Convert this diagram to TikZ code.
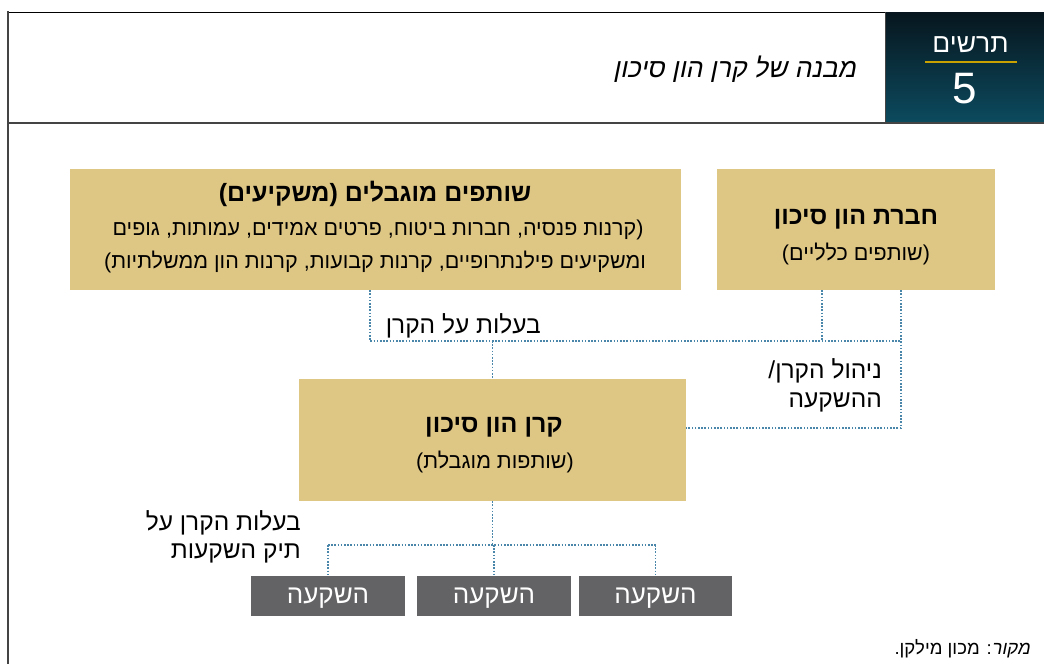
\documentclass[tikz,border=0pt]{standalone}
\usepackage{fontspec}
\setmainfont[Script=Hebrew]{Liberation Sans}
\newfontfamily\slantfont[Script=Hebrew,FakeSlant=0.2]{Liberation Sans}
\TeXXeTstate=1
\newcommand\rtl[1]{\beginR #1\endR}
\definecolor{gold}{RGB}{222,198,133}
\definecolor{investgray}{RGB}{99,99,102}
\definecolor{dotblue}{RGB}{74,134,170}
\definecolor{hdrtop}{RGB}{7,22,30}
\definecolor{hdrbot}{RGB}{12,74,94}
\definecolor{hdrline}{RGB}{201,161,0}
\definecolor{frame}{RGB}{68,68,68}
\tikzset{
  goldbox/.style={fill=gold, inner sep=0pt},
  investbox/.style={fill=investgray, text=white, inner sep=0pt, minimum width=154pt, minimum height=40pt, text depth=0pt, font=\fontsize{26}{28}\selectfont},
  conn/.style={draw=dotblue, line width=1.6pt, dash pattern=on 1.6pt off 1.6pt},
  boxtitle/.style={inner sep=0pt, font=\fontsize{25}{28}\bfseries\selectfont},
  boxtext/.style={inner sep=0pt, font=\fontsize{21.5}{24}\selectfont},
  lbl/.style={inner sep=0pt, font=\fontsize{24.5}{27}\selectfont},
}
\begin{document}
\begin{tikzpicture}[x=1pt,y=-1pt]
\useasboundingbox (0,0) rectangle (1044,664);
% frame
\shade[top color=hdrtop, bottom color=hdrbot] (885,12) rectangle (1044,122);
\draw[black, line width=0.8pt] (8,12) -- (885,12);
\draw[frame, line width=0.8pt] (885,12) -- (885,122);
\draw[frame, line width=1.2pt] (8,123) -- (1044,123);
\draw[frame, line width=2pt] (8,11) -- (8,664);
\draw[hdrline, line width=1.5pt] (925,62) -- (1017,62);
\node[text=white, inner sep=0pt, font=\fontsize{26.5}{28}\selectfont] (hdrword) at (970.5,45) {\rtl{תרשים}};
\node[text=white, inner sep=0pt, font=\fontsize{44}{46}\selectfont] (hdrnum) at (965,89) {5};
\node[anchor=east, inner sep=0pt, font=\fontsize{26.5}{28}\selectfont\slantfont] (title) at (856,69) {\rtl{מבנה של קרן הון סיכון}};

% boxes
\node[goldbox, minimum width=611pt, minimum height=121pt] (lp) at (375.5,229.5) {};
\node[boxtitle] (lpT) at (375,194) {\rtl{שותפים מוגבלים (משקיעים)}};
\node[boxtext] (lpA) at (378,230) {\rtl{(קרנות פנסיה, חברות ביטוח, פרטים אמידים, עמותות, גופים}};
\node[boxtext] (lpB) at (375,262) {\rtl{ומשקיעים פילנתרופיים, קרנות קבועות, קרנות הון ממשלתיות)}};

\node[goldbox, minimum width=278pt, minimum height=121pt] (gp) at (856,229.5) {};
\node[boxtitle] (gpT) at (856,219.5) {\rtl{חברת הון סיכון}};
\node[boxtext] (gpA) at (856,254) {\rtl{(שותפים כלליים)}};

\node[goldbox, minimum width=387pt, minimum height=122pt] (fund) at (492.5,440) {};
\node[boxtitle] (fundT) at (494,427.5) {\rtl{קרן הון סיכון}};
\node[boxtext] (fundA) at (495,462) {\rtl{(שותפות מוגבלת)}};

\node[investbox] (i1) at (328,596) {\rtl{השקעה}};
\node[investbox] (i2) at (494,596) {\rtl{השקעה}};
\node[investbox, minimum width=153pt] (i3) at (655.5,596) {\rtl{השקעה}};

% junctions
\coordinate (own) at (370,341);
\coordinate (bus) at (901,341);
\coordinate (gpL) at (822,341);
\coordinate (mgmt) at (901,428);
\coordinate (bus2) at (493,545);

% connectors
\draw[conn] (own |- lp.south) -- (own) -- (bus);
\draw[conn] (gpL |- gp.south) -- (gpL);
\draw[conn] (bus |- gp.south) -- (mgmt) -- (mgmt -| fund.east);
\draw[conn] (fund.north |- own) -- (fund.north);
\draw[conn] (fund.south) -- (fund.south |- bus2);
\draw[conn] (i1.north |- bus2) -- (i3.north |- bus2);
\draw[conn] (i1.north |- bus2) -- (i1.north);
\draw[conn] (i2.north |- bus2) -- (i2.north);
\draw[conn] (i3.north |- bus2) -- (i3.north);

% labels
\node[lbl, anchor=east] (l1) at (541,326) {\rtl{בעלות על הקרן}};
\node[lbl, anchor=east] (l2a) at (882,371) {\rtl{ניהול הקרן/}};
\node[lbl, anchor=east] (l2b) at (882,402) {\rtl{ההשקעה}};
\node[lbl, anchor=east] (l3a) at (301,523) {\rtl{בעלות הקרן על}};
\node[lbl, anchor=east] (l3b) at (301,553) {\rtl{תיק השקעות}};
\node[anchor=east, inner sep=0pt, font=\fontsize{18.5}{20}\selectfont] (src) at (1030,649) {\rtl{{\slantfont מקור}: מכון מילקן.}};
\end{tikzpicture}
\end{document}
